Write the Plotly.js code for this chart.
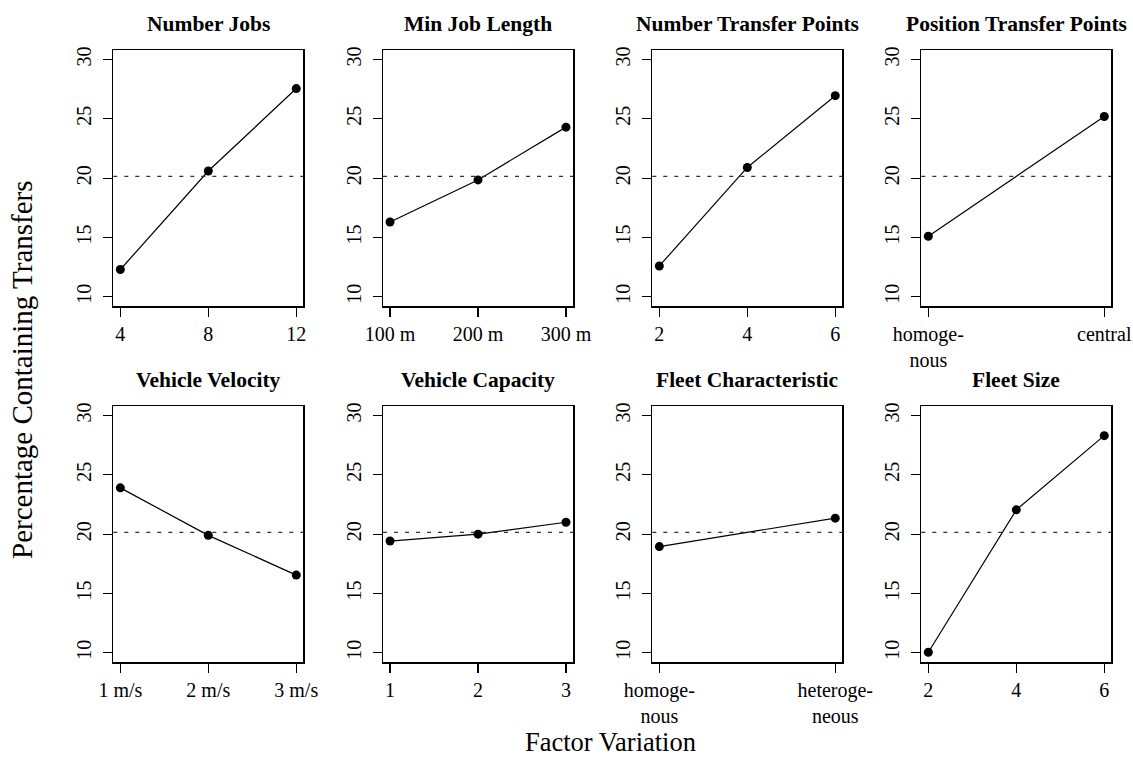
<!DOCTYPE html>
<html>
<head>
<meta charset="utf-8">
<script src="https://cdn.plot.ly/plotly-3.0.1.min.js"></script>
<style>html,body{margin:0;padding:0;background:#fff;}#chart{width:1133px;height:761px;}</style>
</head>
<body>
<div id="chart"></div>
<script>
// ---- data ----
const panelTitles = ["Number Jobs", "Min Job Length", "Number Transfer Points", "Position Transfer Points",
                     "Vehicle Velocity", "Vehicle Capacity", "Fleet Characteristic", "Fleet Size"];
const numberJobsLevels = ["4", "8", "12"];
const numberJobsValues = [12.3, 20.6, 27.55];
const minJobLengthLevels = ["100 m", "200 m", "300 m"];
const minJobLengthValues = [16.3, 19.85, 24.3];
const numberTransferPointsLevels = ["2", "4", "6"];
const numberTransferPointsValues = [12.6, 20.9, 26.95];
const positionTransferPointsLevels = ["homoge-<br>nous", "central"];
const positionTransferPointsValues = [15.1, 25.2];
const vehicleVelocityLevels = ["1 m/s", "2 m/s", "3 m/s"];
const vehicleVelocityValues = [23.9, 19.9, 16.55];
const vehicleCapacityLevels = ["1", "2", "3"];
const vehicleCapacityValues = [19.42, 20.0, 21.0];
const fleetCharacteristicLevels = ["homoge-<br>nous", "heteroge-<br>neous"];
const fleetCharacteristicValues = [18.95, 21.35];
const fleetSizeLevels = ["2", "4", "6"];
const fleetSizeValues = [10.05, 22.05, 28.3];
const overallMean = 20.15;
const yTicks = [10, 15, 20, 25, 30];
const yLabel = "Percentage Containing Transfers";
const xLabel = "Factor Variation";

const levels = [numberJobsLevels, minJobLengthLevels, numberTransferPointsLevels, positionTransferPointsLevels,
                vehicleVelocityLevels, vehicleCapacityLevels, fleetCharacteristicLevels, fleetSizeLevels];
const values = [numberJobsValues, minJobLengthValues, numberTransferPointsValues, positionTransferPointsValues,
                vehicleVelocityValues, vehicleCapacityValues, fleetCharacteristicValues, fleetSizeValues];

// ---- layout geometry ----
const W = 1133, H = 761;
const colL = [113.3, 383, 652.3, 921.3];
const panelW = 190;
const rowTop = [50, 406];
const panelH = 256.3;
const FONT = "'Liberation Serif', 'Times New Roman', serif";

const traces = [];
const shapes = [];
const annotations = [];
const layout = {
  width: W, height: H,
  margin: {l: 0, r: 0, t: 0, b: 0},
  paper_bgcolor: "#fff", plot_bgcolor: "#fff",
  showlegend: false,
  font: {family: FONT, color: "#000", size: 20},
};

for (let i = 0; i < 8; i++) {
  const r = Math.floor(i / 4), c = i % 4;
  const sfx = i === 0 ? "" : String(i + 1);
  const xa = "x" + sfx, ya = "y" + sfx;
  const n = levels[i].length;
  const pad = (n - 1) * 0.04;
  const x0 = colL[c] / W, x1 = (colL[c] + panelW) / W;
  const y1 = 1 - rowTop[r] / H, y0 = 1 - (rowTop[r] + panelH) / H;

  layout["xaxis" + sfx] = {
    domain: [x0, x1], anchor: ya, type: "category",
    range: [-pad, n - 1 + pad],
    showgrid: false, zeroline: false,
    showline: true, mirror: true, linecolor: "#000", linewidth: 1.5,
    ticks: "outside", ticklen: 9, tickwidth: 1.2, tickcolor: "#000",
    tickfont: {family: FONT, size: 20, color: "#000"},
    fixedrange: true,
  };
  layout["yaxis" + sfx] = {
    domain: [y0, y1], anchor: xa,
    range: [9.2, 30.8], tickvals: yTicks, ticktext: yTicks.map(String),
    tickangle: -90, ticklabelstandoff: 4,
    showgrid: false, zeroline: false,
    showline: true, mirror: true, linecolor: "#000", linewidth: 1.5,
    ticks: "outside", ticklen: 9, tickwidth: 1.2, tickcolor: "#000",
    tickfont: {family: FONT, size: 20, color: "#000"},
    fixedrange: true,
  };

  traces.push({
    type: "scatter", mode: "lines+markers",
    x: levels[i], y: values[i], xaxis: xa, yaxis: ya,
    line: {color: "#000", width: 1.2},
    marker: {color: "#000", size: 9},
    hoverinfo: "skip",
  });

  shapes.push({
    type: "line", xref: xa + " domain", yref: ya,
    x0: 0, x1: 1, y0: overallMean, y1: overallMean,
    line: {color: "#333", width: 1.2, dash: "4px,7px"},
  });

  annotations.push({
    text: "<b>" + panelTitles[i] + "</b>",
    xref: "paper", yref: "paper",
    x: (colL[c] + panelW / 2) / W, y: 1 - (rowTop[r] - 26) / H,
    xanchor: "center", yanchor: "middle", showarrow: false,
    font: {family: FONT, size: 21.5, color: "#000"},
  });
}

annotations.push({
  text: yLabel, xref: "paper", yref: "paper",
  x: 22 / W, y: 1 - 370 / H, xanchor: "center", yanchor: "middle",
  textangle: -90, showarrow: false,
  font: {family: FONT, size: 29, color: "#000"},
});
annotations.push({
  text: xLabel, xref: "paper", yref: "paper",
  x: 610 / W, y: 2 / H, xanchor: "center", yanchor: "bottom",
  showarrow: false,
  font: {family: FONT, size: 26.5, color: "#000"},
});

layout.shapes = shapes;
layout.annotations = annotations;

Plotly.newPlot("chart", traces, layout, {displayModeBar: false, staticPlot: true});
</script>
</body>
</html>
